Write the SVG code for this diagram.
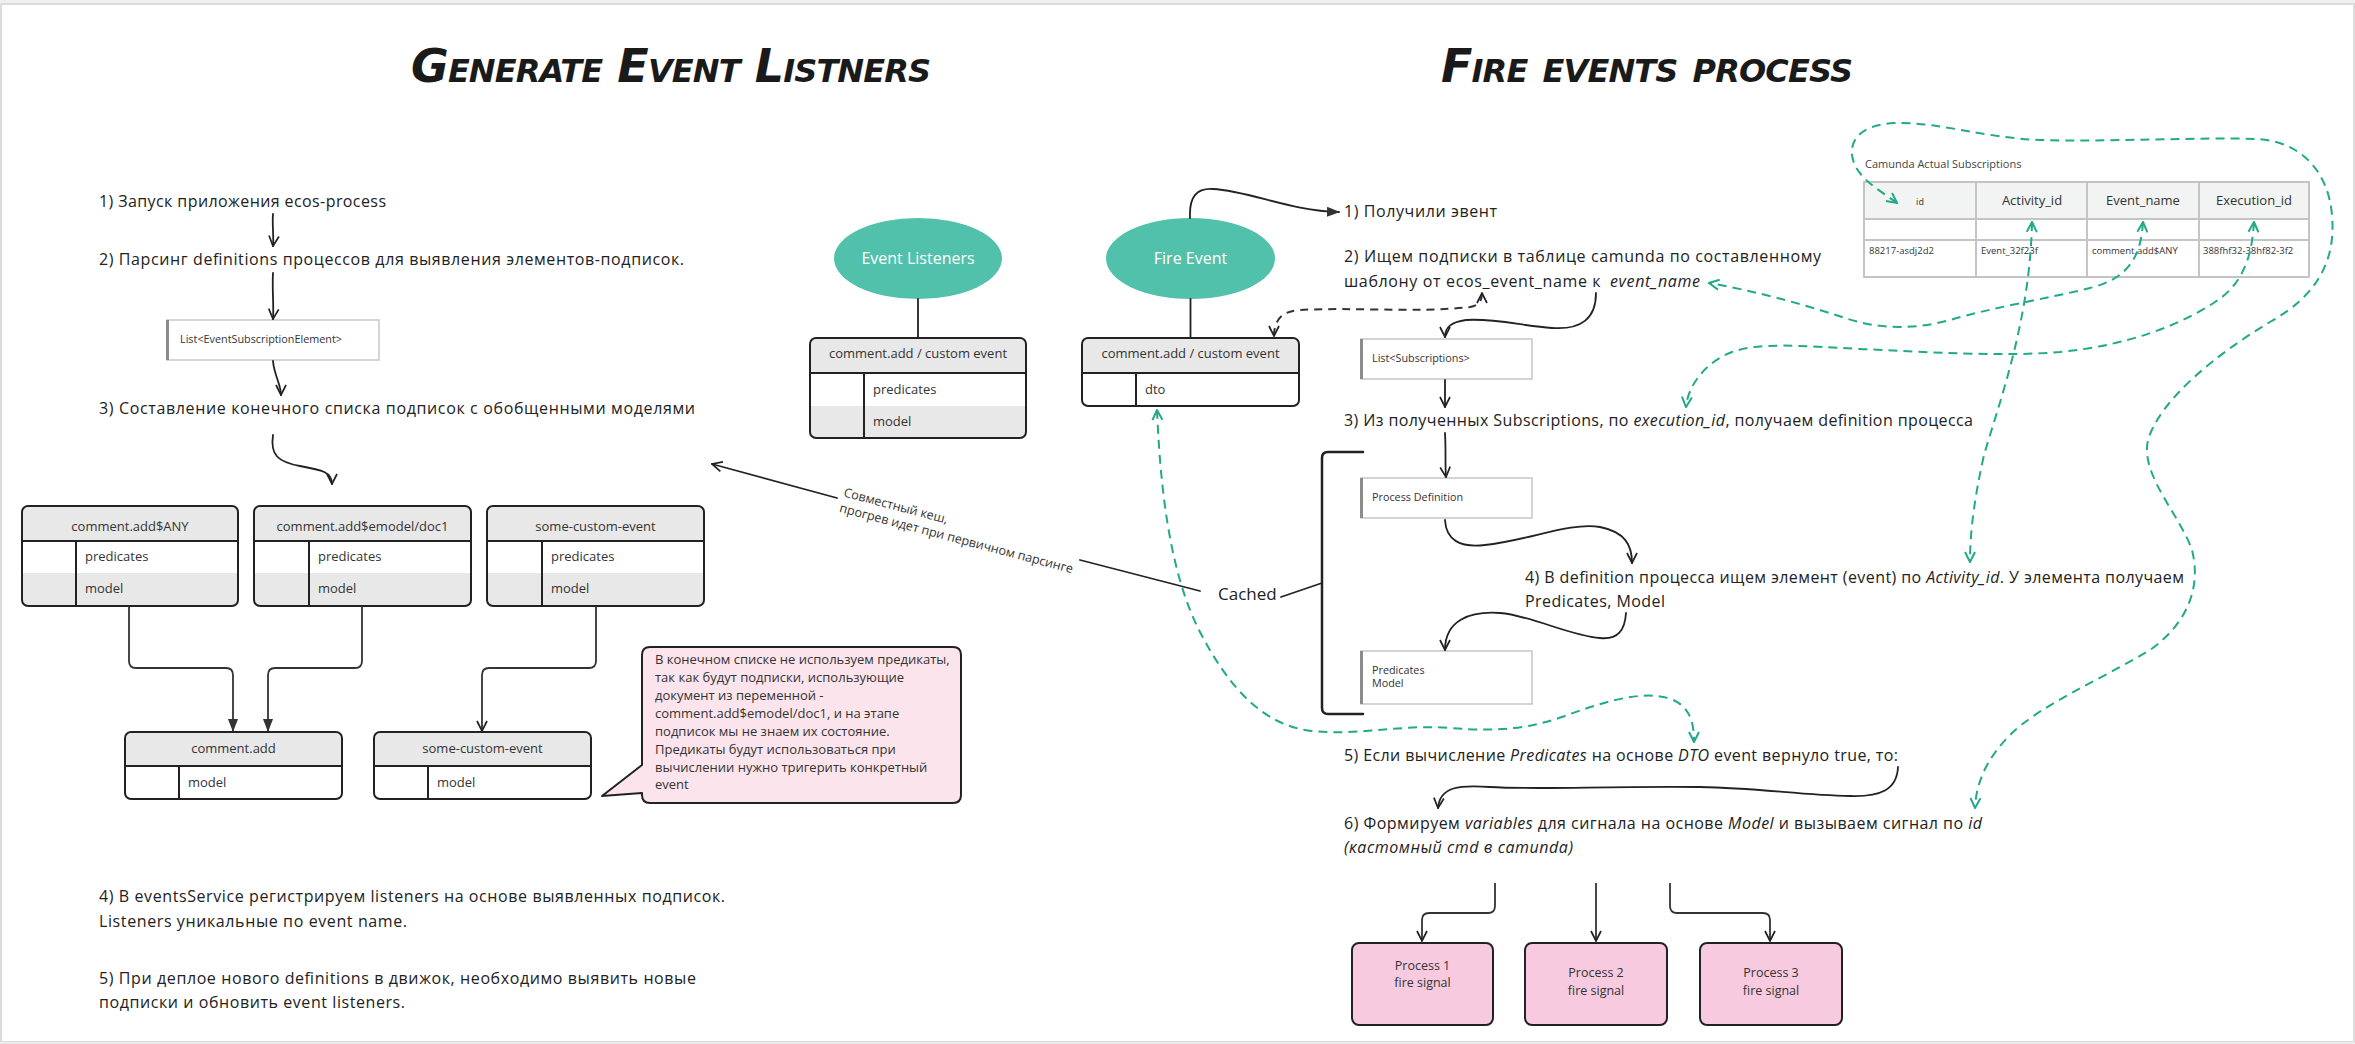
<svg xmlns="http://www.w3.org/2000/svg" width="2355" height="1044" viewBox="0 0 2355 1044">
<defs>
<style>
text{font-family:"Open Sans","Liberation Sans",sans-serif;fill:#222}
.st{font-size:16px}
.i{font-style:italic}
.ttl{font-family:"DejaVu Sans","Liberation Sans",sans-serif;font-size:46px;font-weight:bold;font-style:italic;font-variant:small-caps;fill:#1a1a1a}
.tb{font-size:13px;fill:#333}
.sm{font-size:10.8px;fill:#333}
.ps{font-size:12.5px;fill:#333}
.nt{font-size:13px;fill:#333}
.wt{font-size:16px;fill:#fff}
.hd{fill:#e8e8e8}
.ol{fill:none;stroke:#222;stroke-width:2}
.ln{fill:none;stroke:#222;stroke-width:1.8;stroke-linecap:round}
.ort{fill:none;stroke:#333;stroke-width:1.8}
.gd{fill:none;stroke:#22a98a;stroke-width:2;stroke-dasharray:9 6}
.bd{fill:none;stroke:#333;stroke-width:2;stroke-dasharray:8 6}
.ell{fill:#52c1ab}
.box{fill:#fff;stroke:#c6c6c6;stroke-width:1.5}
.bar{fill:#8c8c8c}
.pk{fill:#f7cadf;stroke:#222;stroke-width:2}
.ct{fill:none;stroke:#c4c4c4;stroke-width:2}
</style>
<marker id="v" viewBox="0 0 12 12" refX="11" refY="6" markerWidth="12" markerHeight="12" markerUnits="userSpaceOnUse" orient="auto-start-reverse"><path d="M1,1 L11,6 L1,11" fill="none" stroke="#222" stroke-width="1.7"/></marker>
<marker id="vg" viewBox="0 0 12 12" refX="11" refY="6" markerWidth="12" markerHeight="12" markerUnits="userSpaceOnUse" orient="auto-start-reverse"><path d="M1,1 L11,6 L1,11" fill="none" stroke="#22a98a" stroke-width="2"/></marker>
<marker id="tri" viewBox="0 0 13 10" refX="12" refY="5" markerWidth="13" markerHeight="10" markerUnits="userSpaceOnUse" orient="auto"><path d="M0,0 L13,5 L0,10 Z" fill="#333"/></marker>
</defs>

<rect x="0" y="0" width="2355" height="1044" fill="#fff"/>
<rect x="0" y="0" width="2355" height="4" fill="#efefef"/>
<path d="M1,4V1042H2354V4H1" fill="none" stroke="#dcdcdc" stroke-width="2"/>
<rect x="0" y="1042" width="2355" height="2" fill="#ececec"/>

<g id="titles">
<text class="ttl" x="411" y="82" textLength="520">Generate Event Listners</text>
<text class="ttl" x="1441" y="82" textLength="412">Fire events process</text>
</g>

<g id="left-steps">
<text class="st" x="99" y="207" textLength="287">1) Запуск приложения ecos-process</text>
<text class="st" x="99" y="265" textLength="585">2) Парсинг definitions процессов для выявления элементов-подписок.</text>
<text class="st" x="99" y="414" textLength="596">3) Составление конечного списка подписок с обобщенными моделями</text>
<text class="st" x="99" y="902" textLength="626">4) В eventsService регистрируем listeners на основе выявленных подписок.</text>
<text class="st" x="99" y="927" textLength="308">Listeners уникальные по event name.</text>
<text class="st" x="99" y="984" textLength="597">5) При деплое нового definitions в движок, необходимо выявить новые</text>
<text class="st" x="99" y="1008" textLength="306">подписки и обновить event listeners.</text>
</g>

<g id="list-esub">
<rect class="box" x="167" y="320" width="212" height="40"/>
<rect class="bar" x="166" y="320" width="3" height="40"/>
<text class="sm" x="180" y="343" textLength="162">List&lt;EventSubscriptionElement&gt;</text>
</g>

<g id="t-any">
<rect x="22" y="506" width="216" height="100" rx="6" fill="#fff"/>
<path class="hd" d="M22,541V512Q22,506 28,506H232Q238,506 238,512V541Z"/>
<path class="hd" d="M22,573H238V600Q238,606 232,606H28Q22,606 22,600Z"/>
<path class="ol" d="M22,541H238M76,541V606"/>
<rect class="ol" x="22" y="506" width="216" height="100" rx="6"/>
<text class="tb" x="130" y="531" text-anchor="middle">comment.add$ANY</text>
<text class="tb" x="85" y="561">predicates</text>
<text class="tb" x="85" y="593">model</text>
</g>

<g id="t-doc1">
<rect x="254" y="506" width="217" height="100" rx="6" fill="#fff"/>
<path class="hd" d="M254,541V512Q254,506 260,506H465Q471,506 471,512V541Z"/>
<path class="hd" d="M254,573H471V600Q471,606 465,606H260Q254,606 254,600Z"/>
<path class="ol" d="M254,541H471M309,541V606"/>
<rect class="ol" x="254" y="506" width="217" height="100" rx="6"/>
<text class="tb" x="362.5" y="531" text-anchor="middle">comment.add$emodel/doc1</text>
<text class="tb" x="318" y="561">predicates</text>
<text class="tb" x="318" y="593">model</text>
</g>

<g id="t-custom">
<rect x="487" y="506" width="217" height="100" rx="6" fill="#fff"/>
<path class="hd" d="M487,541V512Q487,506 493,506H698Q704,506 704,512V541Z"/>
<path class="hd" d="M487,573H704V600Q704,606 698,606H493Q487,606 487,600Z"/>
<path class="ol" d="M487,541H704M542,541V606"/>
<rect class="ol" x="487" y="506" width="217" height="100" rx="6"/>
<text class="tb" x="595.5" y="531" text-anchor="middle">some-custom-event</text>
<text class="tb" x="551" y="561">predicates</text>
<text class="tb" x="551" y="593">model</text>
</g>

<g id="b-commentadd">
<rect x="125" y="732" width="217" height="67" rx="6" fill="#fff"/>
<path class="hd" d="M125,766V738Q125,732 131,732H336Q342,732 342,738V766Z"/>
<path class="ol" d="M125,766H342M179,766V799"/>
<rect class="ol" x="125" y="732" width="217" height="67" rx="6"/>
<text class="tb" x="233.5" y="753" text-anchor="middle">comment.add</text>
<text class="tb" x="188" y="787">model</text>
</g>

<g id="b-custom">
<rect x="374" y="732" width="217" height="67" rx="6" fill="#fff"/>
<path class="hd" d="M374,766V738Q374,732 380,732H585Q591,732 591,738V766Z"/>
<path class="ol" d="M374,766H591M428,766V799"/>
<rect class="ol" x="374" y="732" width="217" height="67" rx="6"/>
<text class="tb" x="482.5" y="753" text-anchor="middle">some-custom-event</text>
<text class="tb" x="437" y="787">model</text>
</g>

<g id="note">
<path d="M650,647H953Q961,647 961,655V795Q961,803 953,803H650Q642,803 642,795V793L602,796L642,765V655Q642,647 650,647Z" fill="#fce4ec" stroke="#222" stroke-width="2" stroke-linejoin="round"/>
<text class="nt" x="655" y="664">В конечном списке не используем предикаты,</text>
<text class="nt" x="655" y="682">так как будут подписки, использующие</text>
<text class="nt" x="655" y="700">документ из переменной -</text>
<text class="nt" x="655" y="718">comment.add$emodel/doc1, и на этапе</text>
<text class="nt" x="655" y="736">подписок мы не знаем их состояние.</text>
<text class="nt" x="655" y="753.5">Предикаты будут использоваться при</text>
<text class="nt" x="655" y="771.5">вычислении нужно тригерить конкретный</text>
<text class="nt" x="655" y="789">event</text>
</g>

<g id="event-listeners">
<ellipse class="ell" cx="918" cy="258.5" rx="84" ry="40.5"/>
<text class="wt" x="918" y="264" text-anchor="middle">Event Listeners</text>
</g>

<g id="el-table">
<rect x="810" y="338" width="216" height="100" rx="6" fill="#fff"/>
<path class="hd" d="M810,373V344Q810,338 816,338H1020Q1026,338 1026,344V373Z"/>
<path class="hd" d="M810,406H1026V432Q1026,438 1020,438H816Q810,438 810,432Z"/>
<path class="ol" d="M810,373H1026M864,373V438"/>
<rect class="ol" x="810" y="338" width="216" height="100" rx="6"/>
<text class="tb" x="918" y="358" text-anchor="middle">comment.add / custom event</text>
<text class="tb" x="873" y="394">predicates</text>
<text class="tb" x="873" y="426">model</text>
</g>

<g id="fire-event">
<ellipse class="ell" cx="1190.5" cy="258.5" rx="84.5" ry="40.5"/>
<text class="wt" x="1190.5" y="264" text-anchor="middle">Fire Event</text>
</g>

<g id="fe-table">
<rect x="1082" y="338" width="217" height="68" rx="6" fill="#fff"/>
<path class="hd" d="M1082,373V344Q1082,338 1088,338H1293Q1299,338 1299,344V373Z"/>
<path class="ol" d="M1082,373H1299M1136,373V406"/>
<rect class="ol" x="1082" y="338" width="217" height="68" rx="6"/>
<text class="tb" x="1190.5" y="358" text-anchor="middle">comment.add / custom event</text>
<text class="tb" x="1145" y="394">dto</text>
</g>

<g id="cache-label">
<text x="1218" y="600" style="font-size:17px">Cached</text>
<g transform="translate(840,497.6) rotate(14.8)">
<text x="2.5" y="-2" style="font-size:12.5px;fill:#333">Совместный кеш,</text>
<text x="2.5" y="14" style="font-size:12.5px;fill:#333">прогрев идет при первичном парсинге</text>
</g>
</g>

<g id="right-steps">
<text class="st" x="1344" y="217" textLength="153">1) Получили эвент</text>
<text class="st" x="1344" y="262" textLength="477">2) Ищем подписки в таблице camunda по составленному</text>
<text class="st" x="1344" y="287" textLength="356">шаблону от ecos_event_name к <tspan class="i" dx="4">event_name</tspan></text>
<text class="st" x="1344" y="426" textLength="629">3) Из полученных Subscriptions, по <tspan class="i">execution_id</tspan>, получаем definition процесса</text>
<text class="st" x="1525" y="583" textLength="659">4) В definition процесса ищем элемент (event) по <tspan class="i">Activity_id</tspan>. У элемента получаем</text>
<text class="st" x="1525" y="607" textLength="140">Predicates, Model</text>
<text class="st" x="1344" y="761" textLength="554">5) Если вычисление <tspan class="i">Predicates</tspan> на основе <tspan class="i">DTO</tspan> event вернуло true, то:</text>
<text class="st" x="1344" y="829" textLength="638">6) Формируем <tspan class="i">variables</tspan> для сигнала на основе <tspan class="i">Model</tspan> и вызываем сигнал по <tspan class="i">id</tspan></text>
<text class="st i" x="1344" y="853" textLength="229">(кастомный cmd в camunda)</text>
</g>

<g id="list-subs">
<rect class="box" x="1361" y="339" width="171" height="40"/>
<rect class="bar" x="1360" y="339" width="3" height="40"/>
<text class="sm" x="1372" y="361.5">List&lt;Subscriptions&gt;</text>
</g>

<g id="proc-def">
<rect class="box" x="1361" y="478" width="171" height="40"/>
<rect class="bar" x="1360" y="478" width="3" height="40"/>
<text class="sm" x="1372" y="500.5">Process Definition</text>
</g>

<g id="pred-model">
<rect class="box" x="1361" y="651" width="171" height="53"/>
<rect class="bar" x="1360" y="651" width="3" height="53"/>
<text class="sm" x="1372" y="673.5">Predicates</text>
<text class="sm" x="1372" y="686.5">Model</text>
</g>

<g id="process1">
<rect class="pk" x="1352" y="943" width="141" height="82" rx="7"/>
<text class="ps" x="1422.5" y="970" text-anchor="middle">Process 1</text>
<text class="ps" x="1422.5" y="987" text-anchor="middle">fire signal</text>
</g>
<g id="process2">
<rect class="pk" x="1525" y="943" width="142" height="82" rx="7"/>
<text class="ps" x="1596" y="977" text-anchor="middle">Process 2</text>
<text class="ps" x="1596" y="995" text-anchor="middle">fire signal</text>
</g>
<g id="process3">
<rect class="pk" x="1700" y="943" width="142" height="82" rx="7"/>
<text class="ps" x="1771" y="977" text-anchor="middle">Process 3</text>
<text class="ps" x="1771" y="995" text-anchor="middle">fire signal</text>
</g>

<g id="camunda-table">
<text x="1865" y="168" style="font-size:11px;fill:#444">Camunda Actual Subscriptions</text>
<rect x="1864" y="182" width="445" height="37" fill="#f2f3f3"/>
<rect class="ct" x="1864" y="182" width="445" height="95"/>
<path class="ct" d="M1864,219H2309M1864,240H2309M1976,182V277M2087,182V277M2199,182V277"/>
<text x="1920" y="205" text-anchor="middle" style="font-size:9px;fill:#333">id</text>
<text class="tb" x="2032" y="205" text-anchor="middle">Activity_id</text>
<text class="tb" x="2143" y="205" text-anchor="middle">Event_name</text>
<text class="tb" x="2254" y="205" text-anchor="middle">Execution_id</text>
<text x="1869" y="254" style="font-size:9.5px;fill:#333">88217-asdj2d2</text>
<text x="1981" y="254" style="font-size:9.5px;fill:#333">Event_32f23f</text>
<text x="2092" y="254" style="font-size:9.5px;fill:#333">comment.add$ANY</text>
<text x="2203" y="254" style="font-size:9.5px;fill:#333">388fhf32-38hf82-3f2</text>
</g>

<g id="connectors">
<path class="ln" d="M273,214 C272,225 274,236 273,246" marker-end="url(#v)"/>
<path class="ln" d="M273,273 C272,290 274,305 273,319" marker-end="url(#v)"/>
<path class="ln" d="M273,361 C274,375 281,384 281,395" marker-end="url(#v)"/>
<path class="ln" d="M273,435 C270,455 278,462 300,466 C322,470 332,472 332,484" marker-end="url(#v)"/>
<path class="ort" d="M129,606V661Q129,668 136,668H226Q233,668 233,675V731" marker-end="url(#tri)"/>
<path class="ort" d="M362,606V661Q362,668 355,668H275Q268,668 268,675V731" marker-end="url(#tri)"/>
<path class="ort" d="M596,606V661Q596,668 589,668H489Q482,668 482,675V731" marker-end="url(#v)"/>
<path class="ln" d="M918,299V338"/>
<path class="ln" d="M1190.5,299V338"/>
<path class="ln" d="M1190,218 C1189,196 1197,188 1213,189 C1250,191 1290,211 1339,212" marker-end="url(#tri)"/>
<path class="bd" d="M1274,336 C1274,318 1284,311 1300,310 C1350,307 1420,313 1470,307 C1480,305 1482,300 1482,293" marker-start="url(#v)" marker-end="url(#v)"/>
<path class="ln" d="M1596,293 C1596,318 1582,330 1552,328 C1522,326 1495,318 1466,320 C1450,322 1445,328 1445,337" marker-end="url(#v)"/>
<path class="ln" d="M1445,380V407" marker-end="url(#v)"/>
<path class="ln" d="M1445,433 C1446,450 1445,465 1446,477" marker-end="url(#v)"/>
<path class="ln" d="M1445,520 C1446,540 1460,548 1485,545 C1530,540 1570,522 1600,527 C1625,532 1632,545 1632,563" marker-end="url(#v)"/>
<path class="ln" d="M1626,613 C1625,630 1618,640 1600,638 C1570,636 1530,615 1500,613 C1470,611 1445,620 1445,650" marker-end="url(#v)"/>
<path class="ln" d="M1898,767 C1897,790 1880,797 1850,796 C1800,795 1760,788 1700,787 C1600,786 1540,790 1490,787 C1460,785 1440,786 1438,808" marker-end="url(#v)"/>
<path class="ln" style="stroke-width:2.5" d="M1363,452H1328Q1322,452 1322,458V708Q1322,714 1328,714H1363"/>
<path class="ln" d="M1322,583L1281,597"/>
<path class="ln" d="M1200,591L1080,560"/>
<path class="ln" d="M837,498L712,464" marker-end="url(#v)"/>
<path class="ort" d="M1495,883V906Q1495,913 1488,913H1429Q1422,913 1422,920V941" marker-end="url(#v)"/>
<path class="ort" d="M1596,883V941" marker-end="url(#v)"/>
<path class="ort" d="M1670,883V906Q1670,913 1677,913H1763Q1770,913 1770,920V941" marker-end="url(#v)"/>
<path class="gd" d="M1157,410 C1160,480 1168,570 1200,632 C1230,690 1265,726 1312,731 C1360,736 1400,724 1450,728 C1500,732 1530,728 1562,717 C1600,703 1640,690 1668,698 C1690,705 1694,722 1694,742" marker-start="url(#vg)" marker-end="url(#vg)"/>
<path class="gd" d="M1897,203 C1880,190 1855,178 1852,155 C1850,135 1868,124 1895,123 C1940,122 1985,138 2040,140 C2110,142 2200,137 2256,139 C2300,141 2328,170 2332,215 C2336,260 2318,295 2270,322 C2215,355 2160,400 2148,440 C2140,475 2180,515 2192,550 C2202,590 2185,625 2150,650 C2100,680 2040,705 2010,735 C1985,760 1976,785 1975,808" marker-start="url(#vg)" marker-end="url(#vg)"/>
<path class="gd" d="M2032,222 C2030,320 2000,400 1984,455 C1975,495 1970,530 1970,562" marker-start="url(#vg)" marker-end="url(#vg)"/>
<path class="gd" d="M2143,222 C2141,255 2130,278 2090,288 C2050,298 1990,308 1950,320 C1910,331 1875,328 1845,318 C1800,303 1750,290 1709,283" marker-start="url(#vg)" marker-end="url(#vg)"/>
<path class="gd" d="M2254,222 C2252,258 2242,285 2215,302 C2180,325 2130,345 2060,352 C2000,357 1930,352 1860,349 C1800,346 1760,342 1732,352 C1706,362 1688,385 1686,407" marker-start="url(#vg)" marker-end="url(#vg)"/>
</g>
</svg>
